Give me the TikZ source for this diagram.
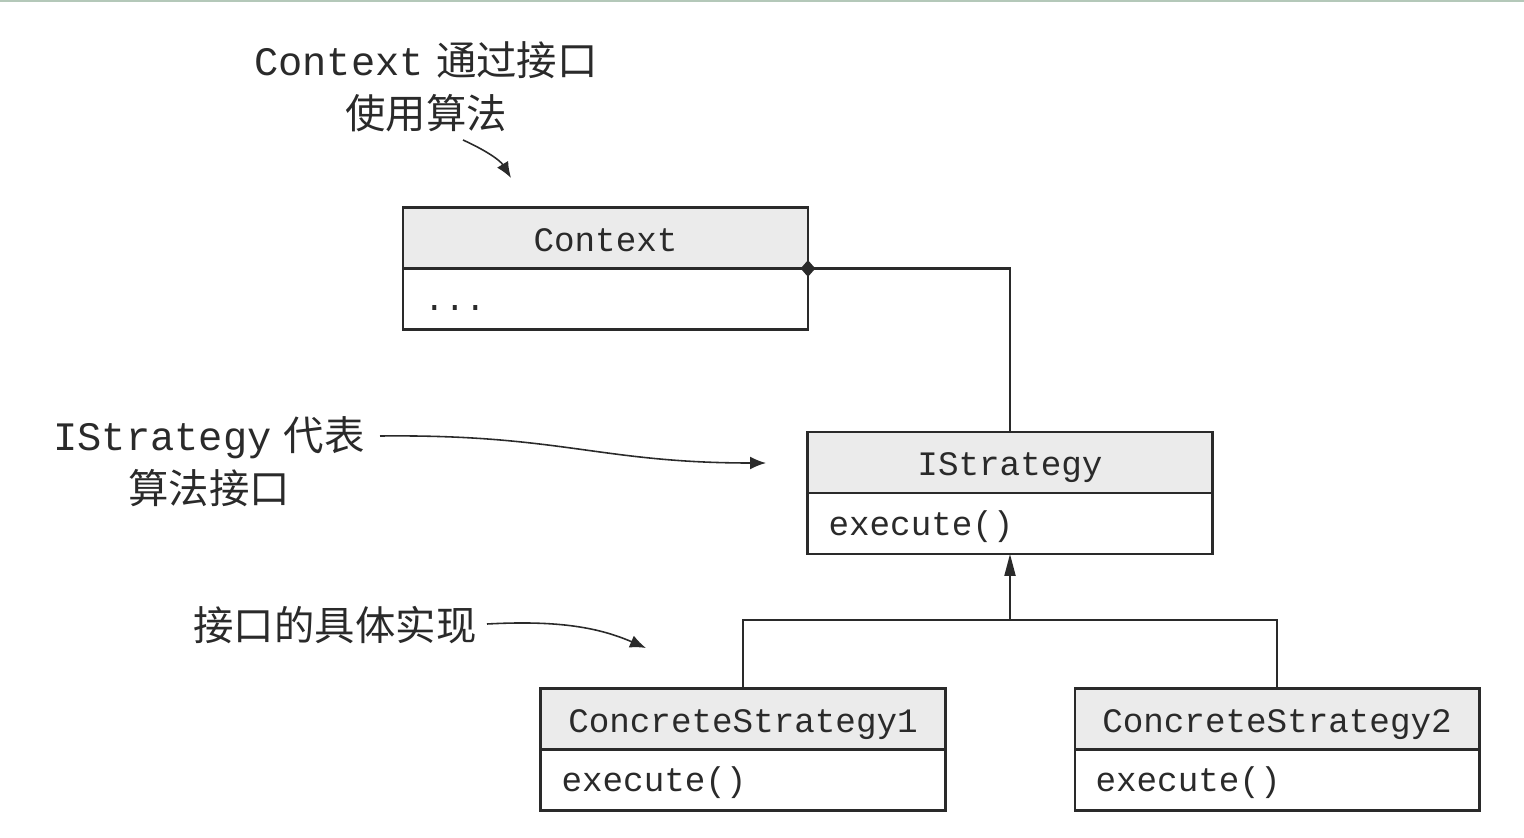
\documentclass[tikz,border=0pt]{standalone}
\usepackage{fontspec}
\setmonofont{Liberation Mono}
\newfontfamily\cjk{Noto Sans CJK SC}
\usetikzlibrary{positioning,arrows.meta,shapes.geometric}
\definecolor{ink}{HTML}{2A2A2A}
\definecolor{headgray}{HTML}{EBEBEB}
\definecolor{topline}{HTML}{B4C8B9}
\begin{document}
\begin{tikzpicture}[x=0.02cm,y=-0.02cm,
		head/.style={draw=ink, fill=headgray, line width=1.2pt, outer sep=0pt, minimum width=8.1cm, minimum height=1.22cm, inner sep=0pt, text height=15.5pt, text depth=0.5pt, text=ink, font=\ttfamily\fontsize{19.5}{20}\selectfont},
		body/.style={draw=ink, fill=white, line width=1.2pt, outer sep=0pt, minimum width=8.1cm, minimum height=1.22cm, inner xsep=0.42cm, inner ysep=0pt, text width=7.26cm, text height=14.5pt, text depth=1pt, align=left, text=ink, font=\ttfamily\fontsize{19.5}{20}\selectfont},
		note/.style={align=center, text=ink, font=\fontsize{23}{30}\selectfont},
		link/.style={draw=ink, line width=1.2pt},
		ann/.style={draw=ink, line width=0.9pt, -{Latex[length=0.32cm,width=0.26cm]}}]
	\useasboundingbox (0,0) rectangle (1524,838);
	\draw [topline, line width=1.5pt] (0,1) -- (1524,1);

	% classes
	\node [head] (ctxh) at (605.5,238) {Context};
	\node [body, below=0pt of ctxh] (ctxb) {...};
	\node [head] (istrh) at (1010,462.5) {IStrategy};
	\node [body, below=0pt of istrh] (istrb) {execute()};
	\foreach \n/\x in {1/743, 2/1277} {
		\node [head] (cs\n h) at (\x,719) {ConcreteStrategy\n};
		\node [body, below=0pt of cs\n h] (cs\n b) {execute()};
	}

	% association
	\draw [link] (ctxh.south east) -| (istrh.north);
	\node [diamond, fill=ink, inner sep=0pt, minimum width=0.3cm, minimum height=0.34cm] (dia) at (ctxh.south east) {};

	% inheritance
	\coordinate (join) at (1010,620);
	\draw [link] (cs1h.north) |- (join) -| (cs2h.north);
	\draw [link, -{Triangle[length=0.44cm,width=0.22cm]}] (join) -- (istrb.south);

	% notes
	\node [note] (note1) at (426,87) {{\ttfamily Context} {\cjk 通过接口}\\{\cjk 使用算法}};
	\node [note] (note2) at (209,462) {{\ttfamily IStrategy} {\cjk 代表}\\{\cjk 算法接口}};
	\node [note] (note3) at (335,625) {\cjk 接口的具体实现};

	\coordinate (a1s) at (463,140);
	\coordinate (a1e) at (511,178);
	\coordinate (a2s) at (380,436);
	\coordinate (a2e) at (766,463);
	\coordinate (a3s) at (487,624);
	\coordinate (a3e) at (646,648);
	\draw [ann] (a1s) .. controls (485,150) and (500,160) .. (a1e);
	\draw [ann] (a2s) .. controls (560,434) and (600,463) .. (a2e);
	\draw [ann] (a3s) .. controls (560,620) and (600,628) .. (a3e);
\end{tikzpicture}
\end{document}
